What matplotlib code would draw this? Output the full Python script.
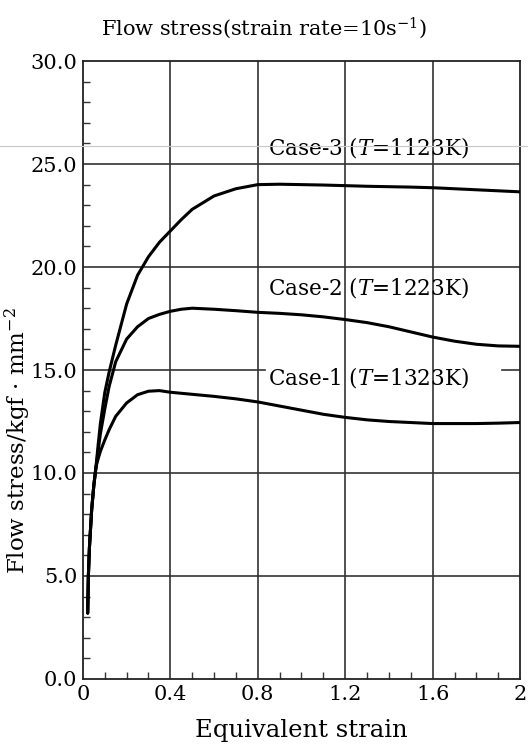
import matplotlib
matplotlib.use("Agg")
import matplotlib.pyplot as plt
from matplotlib.lines import Line2D
from matplotlib.ticker import MultipleLocator

# values
strain = [0.022, 0.025, 0.03, 0.04, 0.05, 0.06, 0.07, 0.08, 0.1, 0.12, 0.15, 0.2,
          0.25, 0.3, 0.35, 0.4, 0.45, 0.5, 0.6, 0.7, 0.8, 0.9, 1.0, 1.1, 1.2,
          1.3, 1.4, 1.5, 1.6, 1.7, 1.8, 1.9, 2.0]
case3 = [3.2, 5.0, 6.4, 8.2, 9.4, 10.3, 11.4, 12.4, 13.9, 14.9, 16.2, 18.2,
         19.6, 20.5, 21.2, 21.75, 22.3, 22.8, 23.45, 23.8, 24.0, 24.02, 24.0, 23.98, 23.95,
         23.92, 23.9, 23.88, 23.85, 23.8, 23.75, 23.7, 23.65]
case2 = [3.2, 5.0, 6.4, 8.2, 9.4, 10.3, 11.1, 11.9, 13.1, 14.2, 15.4, 16.5,
         17.1, 17.5, 17.7, 17.85, 17.95, 18.0, 17.95, 17.88, 17.8, 17.75, 17.68, 17.58, 17.45,
         17.3, 17.1, 16.85, 16.6, 16.4, 16.25, 16.17, 16.15]
case1 = [3.2, 5.0, 6.4, 8.2, 9.4, 10.3, 10.7, 11.05, 11.6, 12.1, 12.75, 13.4,
         13.8, 13.97, 14.0, 13.92, 13.87, 13.82, 13.72, 13.6, 13.45, 13.25, 13.05, 12.85, 12.7,
         12.58, 12.5, 12.45, 12.4, 12.4, 12.4, 12.42, 12.45]
labels = ["Case-3 ($T$=1123K)", "Case-2 ($T$=1223K)", "Case-1 ($T$=1323K)"]
label_y = [25.8, 19.0, 14.65]
xticks = [0, 0.4, 0.8, 1.2, 1.6, 2.0]
xticklabels = ["0", "0.4", "0.8", "1.2", "1.6", "2"]
yticks = [0, 5, 10, 15, 20, 25, 30]

plt.rcParams['font.family'] = ['DejaVu Serif']
plt.rcParams['mathtext.fontset'] = 'dejavuserif'

fig = plt.figure(figsize=(5.28, 7.49), dpi=100)
ax = fig.add_axes([0.157, 0.0935, 0.828, 0.825])

# grid (15 line partly hidden behind the Case-1 label, as in the original)
for xv in xticks[1:-1]:
    ax.axvline(xv, color='#333333', lw=1.2, zorder=1)
for yv in [5, 10, 20, 25]:
    ax.axhline(yv, color='#333333', lw=1.2, zorder=1)
ax.axhline(15, xmin=0, xmax=0.416, color='#333333', lw=1.2, zorder=1)
ax.axhline(15, xmin=0.959, xmax=1, color='#333333', lw=1.2, zorder=1)

for ys in [case3, case2, case1]:
    ax.plot(strain, ys, color='black', lw=2.2, zorder=3, solid_capstyle='round',
            solid_joinstyle='round')

for lab, yl in zip(labels, label_y):
    ax.text(0.847, yl, lab, fontsize=15.5, ha='left', va='center', zorder=4)

ax.set_xlim(0, 2)
ax.set_ylim(0, 30)
ax.set_xticks(xticks)
ax.set_xticklabels(xticklabels)
ax.set_yticks(yticks)
ax.set_yticklabels([f"{v:.1f}" for v in yticks])
ax.xaxis.set_minor_locator(MultipleLocator(0.1))
ax.yaxis.set_minor_locator(MultipleLocator(1))
ax.tick_params(which='major', length=0, labelsize=15, pad=4)
ax.tick_params(which='minor', direction='in', length=5, width=1, color='#333333')
ax.tick_params(axis='x', which='minor', top=False)
ax.tick_params(axis='y', which='minor', right=False)
for sp in ax.spines.values():
    sp.set_linewidth(1.3)
    sp.set_color('#222222')

ax.set_xlabel("Equivalent strain", fontsize=17.5, labelpad=11)
fig.text(18 / 528, 1 - 441 / 749, "Flow stress/kgf · mm$^{-2}$", fontsize=16.5,
         rotation=90, ha='center', va='center')
fig.text(0.5, 1 - 28 / 749, "Flow stress(strain rate=10s$^{-1}$)", fontsize=15,
         ha='center', va='center')

# faint scan line across the page
fig.add_artist(Line2D([0, 1], [0.805, 0.805], transform=fig.transFigure,
                      color='#c8c8c8', lw=0.8))

fig.savefig("out.png", dpi=100)
